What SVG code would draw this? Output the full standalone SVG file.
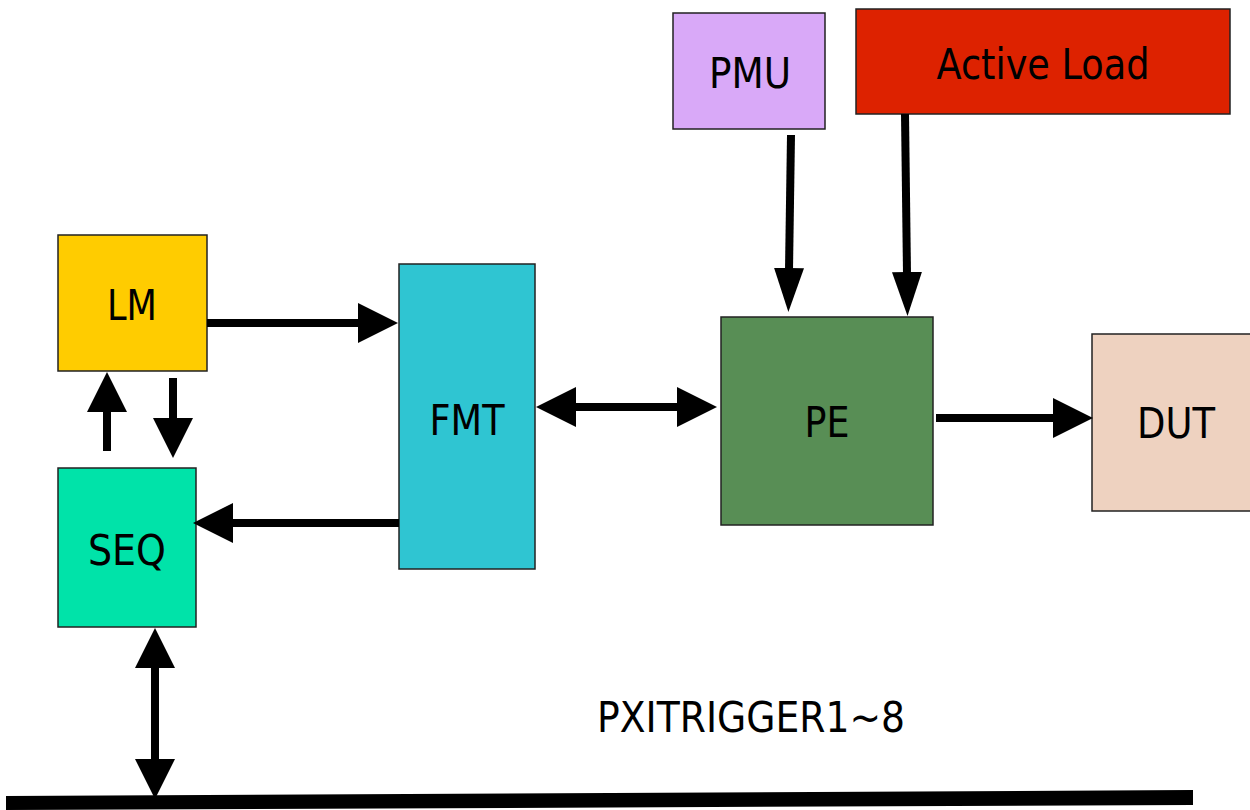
<svg xmlns="http://www.w3.org/2000/svg" width="1250" height="810" viewBox="0 0 1250 810">
<style>
.box{stroke:#222;stroke-width:1.5}
.lbl{font-family:"DejaVu Sans","Liberation Sans",sans-serif;font-size:42px;fill:#000;text-anchor:middle}
.c{stroke:#000;stroke-width:8;fill:none}
</style>
<defs>
<marker id="ah" markerUnits="userSpaceOnUse" markerWidth="40" markerHeight="40" viewBox="0 0 40 40" refX="2" refY="20" orient="auto-start-reverse">
<path d="M0,0 L40,20 L0,40 Z" fill="#000"/>
</marker>
<marker id="ahn" markerUnits="userSpaceOnUse" markerWidth="44" markerHeight="30" viewBox="0 0 44 30" refX="2" refY="15" orient="auto-start-reverse">
<path d="M0,0 L44,15 L0,30 Z" fill="#000"/>
</marker>
</defs>
<rect width="1250" height="810" fill="#fff"/>
<g id="LM"><rect class="box" x="58" y="235" width="149" height="136" fill="#FFCC00"/><text class="lbl" x="132" y="320" textLength="50" lengthAdjust="spacingAndGlyphs">LM</text></g>
<g id="SEQ"><rect class="box" x="58" y="468" width="138" height="159" fill="#00E3A9"/><text class="lbl" x="127" y="565" textLength="78" lengthAdjust="spacingAndGlyphs">SEQ</text></g>
<g id="FMT"><rect class="box" x="399" y="264" width="136" height="305" fill="#2FC5D2"/><text class="lbl" x="467" y="435" textLength="75" lengthAdjust="spacingAndGlyphs">FMT</text></g>
<g id="PE"><rect class="box" x="721" y="317" width="212" height="208" fill="#588E55"/><text class="lbl" x="827" y="437" textLength="45" lengthAdjust="spacingAndGlyphs">PE</text></g>
<g id="DUT"><rect class="box" x="1092" y="334" width="160" height="177" fill="#EED2C0"/><text class="lbl" x="1176" y="438" textLength="78" lengthAdjust="spacingAndGlyphs">DUT</text></g>
<g id="PMU"><rect class="box" x="673" y="13" width="152" height="116" fill="#D9A9F8"/><text class="lbl" x="750" y="88" textLength="82" lengthAdjust="spacingAndGlyphs">PMU</text></g>
<g id="ActiveLoad"><rect class="box" x="856" y="9" width="374" height="105" fill="#DD2200"/><text class="lbl" x="1043" y="79" textLength="213" lengthAdjust="spacingAndGlyphs">Active Load</text></g>
<g id="bus">
<polygon points="6,796 1193,790 1193,805 6,810" fill="#000"/>
<text class="lbl" x="751" y="732" textLength="308" lengthAdjust="spacingAndGlyphs">PXITRIGGER1~8</text>
</g>
<g id="connectors">
<path class="c" d="M207,323 L360,323" marker-end="url(#ah)"/>
<path class="c" d="M107,451 L107,410" marker-end="url(#ah)"/>
<path class="c" d="M173,378 L173,420" marker-end="url(#ah)"/>
<path class="c" d="M399,523 L231,523" marker-end="url(#ah)"/>
<path class="c" d="M574,407 L679,407" marker-start="url(#ah)" marker-end="url(#ah)"/>
<path class="c" d="M936,418 L1055,418" marker-end="url(#ah)"/>
<path class="c" d="M791,135 L789,270" marker-end="url(#ahn)"/>
<path class="c" d="M905,114 L907,274" marker-end="url(#ahn)"/>
<path class="c" d="M155,666 L155,761" marker-start="url(#ah)" marker-end="url(#ah)"/>
</g>
</svg>
